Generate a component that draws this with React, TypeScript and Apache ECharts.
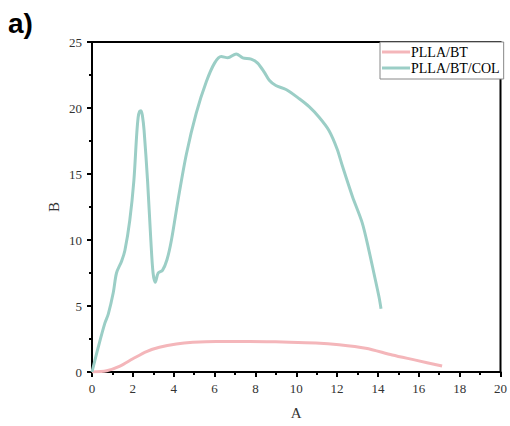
import React, { useEffect, useRef } from "react";
import * as echarts from "echarts";

const seriesNames = ["PLLA/BT", "PLLA/BT/COL"];
const xTicks = { min: 0, max: 20, interval: 2 };
const yTicks = { min: 0, max: 25, interval: 5 };

// PLLA/BT : [A, B]
const pllaBt: [number, number][] = [
  [0, 0], [0.72, 0.1], [1.37, 0.45], [2.0, 1.0], [2.67, 1.55], [3.3, 1.87],
  [4.13, 2.12], [4.94, 2.25], [6.08, 2.32], [7.7, 2.32], [9.33, 2.27],
  [10.96, 2.2], [12.1, 2.07], [13.4, 1.8], [14.7, 1.29], [15.84, 0.9], [17.14, 0.45],
];

// PLLA/BT/COL : [A, B]
const pllaBtCol: [number, number][] = [
  [0, 0], [0.31, 1.9], [0.63, 3.7], [0.8, 4.4], [1.04, 6.0], [1.2, 7.5],
  [1.45, 8.4], [1.61, 9.2], [1.85, 11.5], [2.05, 14.5], [2.18, 17.8],
  [2.26, 19.3], [2.33, 19.75], [2.4, 19.8], [2.47, 19.4], [2.55, 18.3],
  [2.72, 14.5], [2.88, 10.0], [2.99, 7.5], [3.1, 6.8], [3.24, 7.5], [3.45, 7.7],
  [3.67, 8.5], [3.89, 10.0], [4.21, 13.0], [4.62, 16.5], [5.1, 19.6], [5.6, 22.0],
  [6.0, 23.4], [6.33, 23.9], [6.65, 23.8], [7.06, 24.1], [7.38, 23.8], [7.79, 23.7],
  [8.11, 23.4], [8.44, 22.7], [8.68, 22.1], [9.0, 21.7], [9.5, 21.4],
  [10.15, 20.7], [10.63, 20.1], [11.12, 19.3], [11.6, 18.3], [12.0, 16.9],
  [12.26, 15.6], [12.75, 13.3], [13.23, 11.3], [13.56, 9.2], [13.8, 7.5],
  [14.05, 5.7], [14.15, 4.8],
];

const colors = ["#f4b6ba", "#9bcec6"];
const serif = "'Liberation Serif', 'DejaVu Serif', serif";

export default function App() {
  const ref = useRef<HTMLDivElement>(null);
  useEffect(() => {
    if (!ref.current) return;
    const chart = echarts.init(ref.current, undefined, { renderer: "svg" });
    const axisCommon = {
      axisLine: { show: true, onZero: false, lineStyle: { color: "#000", width: 2 } },
      axisTick: { show: true, inside: false, length: 5, lineStyle: { color: "#000", width: 2 } },
      minorTick: { show: true, splitNumber: 2, length: 3, lineStyle: { color: "#000", width: 2 } },
      splitLine: { show: false },
      axisLabel: { color: "#333", fontFamily: serif, fontSize: 13, margin: 10 },
      nameTextStyle: { color: "#333", fontFamily: serif, fontSize: 15 },
      nameLocation: "middle" as const,
      nameMoveOverlap: false,
    };
    chart.setOption({
      animation: false,
      backgroundColor: "#fff",
      color: colors,
      grid: {
        left: 92, right: 8, top: 42, bottom: 54,
        show: true, borderColor: "#000", borderWidth: 2, backgroundColor: "transparent",
      },
      graphic: [
        {
          type: "text", left: 8, top: 9,
          style: { text: "a)", fontSize: 28, fontWeight: "bold", fontFamily: "'Liberation Sans', Arial, sans-serif", fill: "#000" },
        },
      ],
      legend: {
        orient: "vertical",
        left: 380, top: 42,
        width: 122,
        padding: [3, 4, 4, 2],
        itemGap: 2,
        itemWidth: 28, itemHeight: 3,
        icon: "rect",
        backgroundColor: "#fff",
        borderColor: "#888", borderWidth: 1,
        textStyle: { color: "#000", fontFamily: serif, fontSize: 14, padding: [0, 0, 0, -4] },
        data: seriesNames,
      },
      xAxis: {
        type: "value", ...axisCommon,
        min: xTicks.min, max: xTicks.max, interval: xTicks.interval,
        name: "A", nameGap: 33,
      },
      yAxis: {
        type: "value", ...axisCommon,
        min: yTicks.min, max: yTicks.max, interval: yTicks.interval,
        name: "B", nameGap: 31,
      },
      series: [
        {
          name: seriesNames[0], type: "line", data: pllaBt, smooth: 0.3,
          showSymbol: false, lineStyle: { width: 3, color: colors[0] }, itemStyle: { color: colors[0] },
        },
        {
          name: seriesNames[1], type: "line", data: pllaBtCol, smooth: 0.3,
          showSymbol: false, lineStyle: { width: 3, color: colors[1] }, itemStyle: { color: colors[1] },
        },
      ],
    });
    return () => chart.dispose();
  }, []);
  return <div ref={ref} style={{ width: 510, height: 426, position: "absolute", left: 0, top: 0 }} />;
}
